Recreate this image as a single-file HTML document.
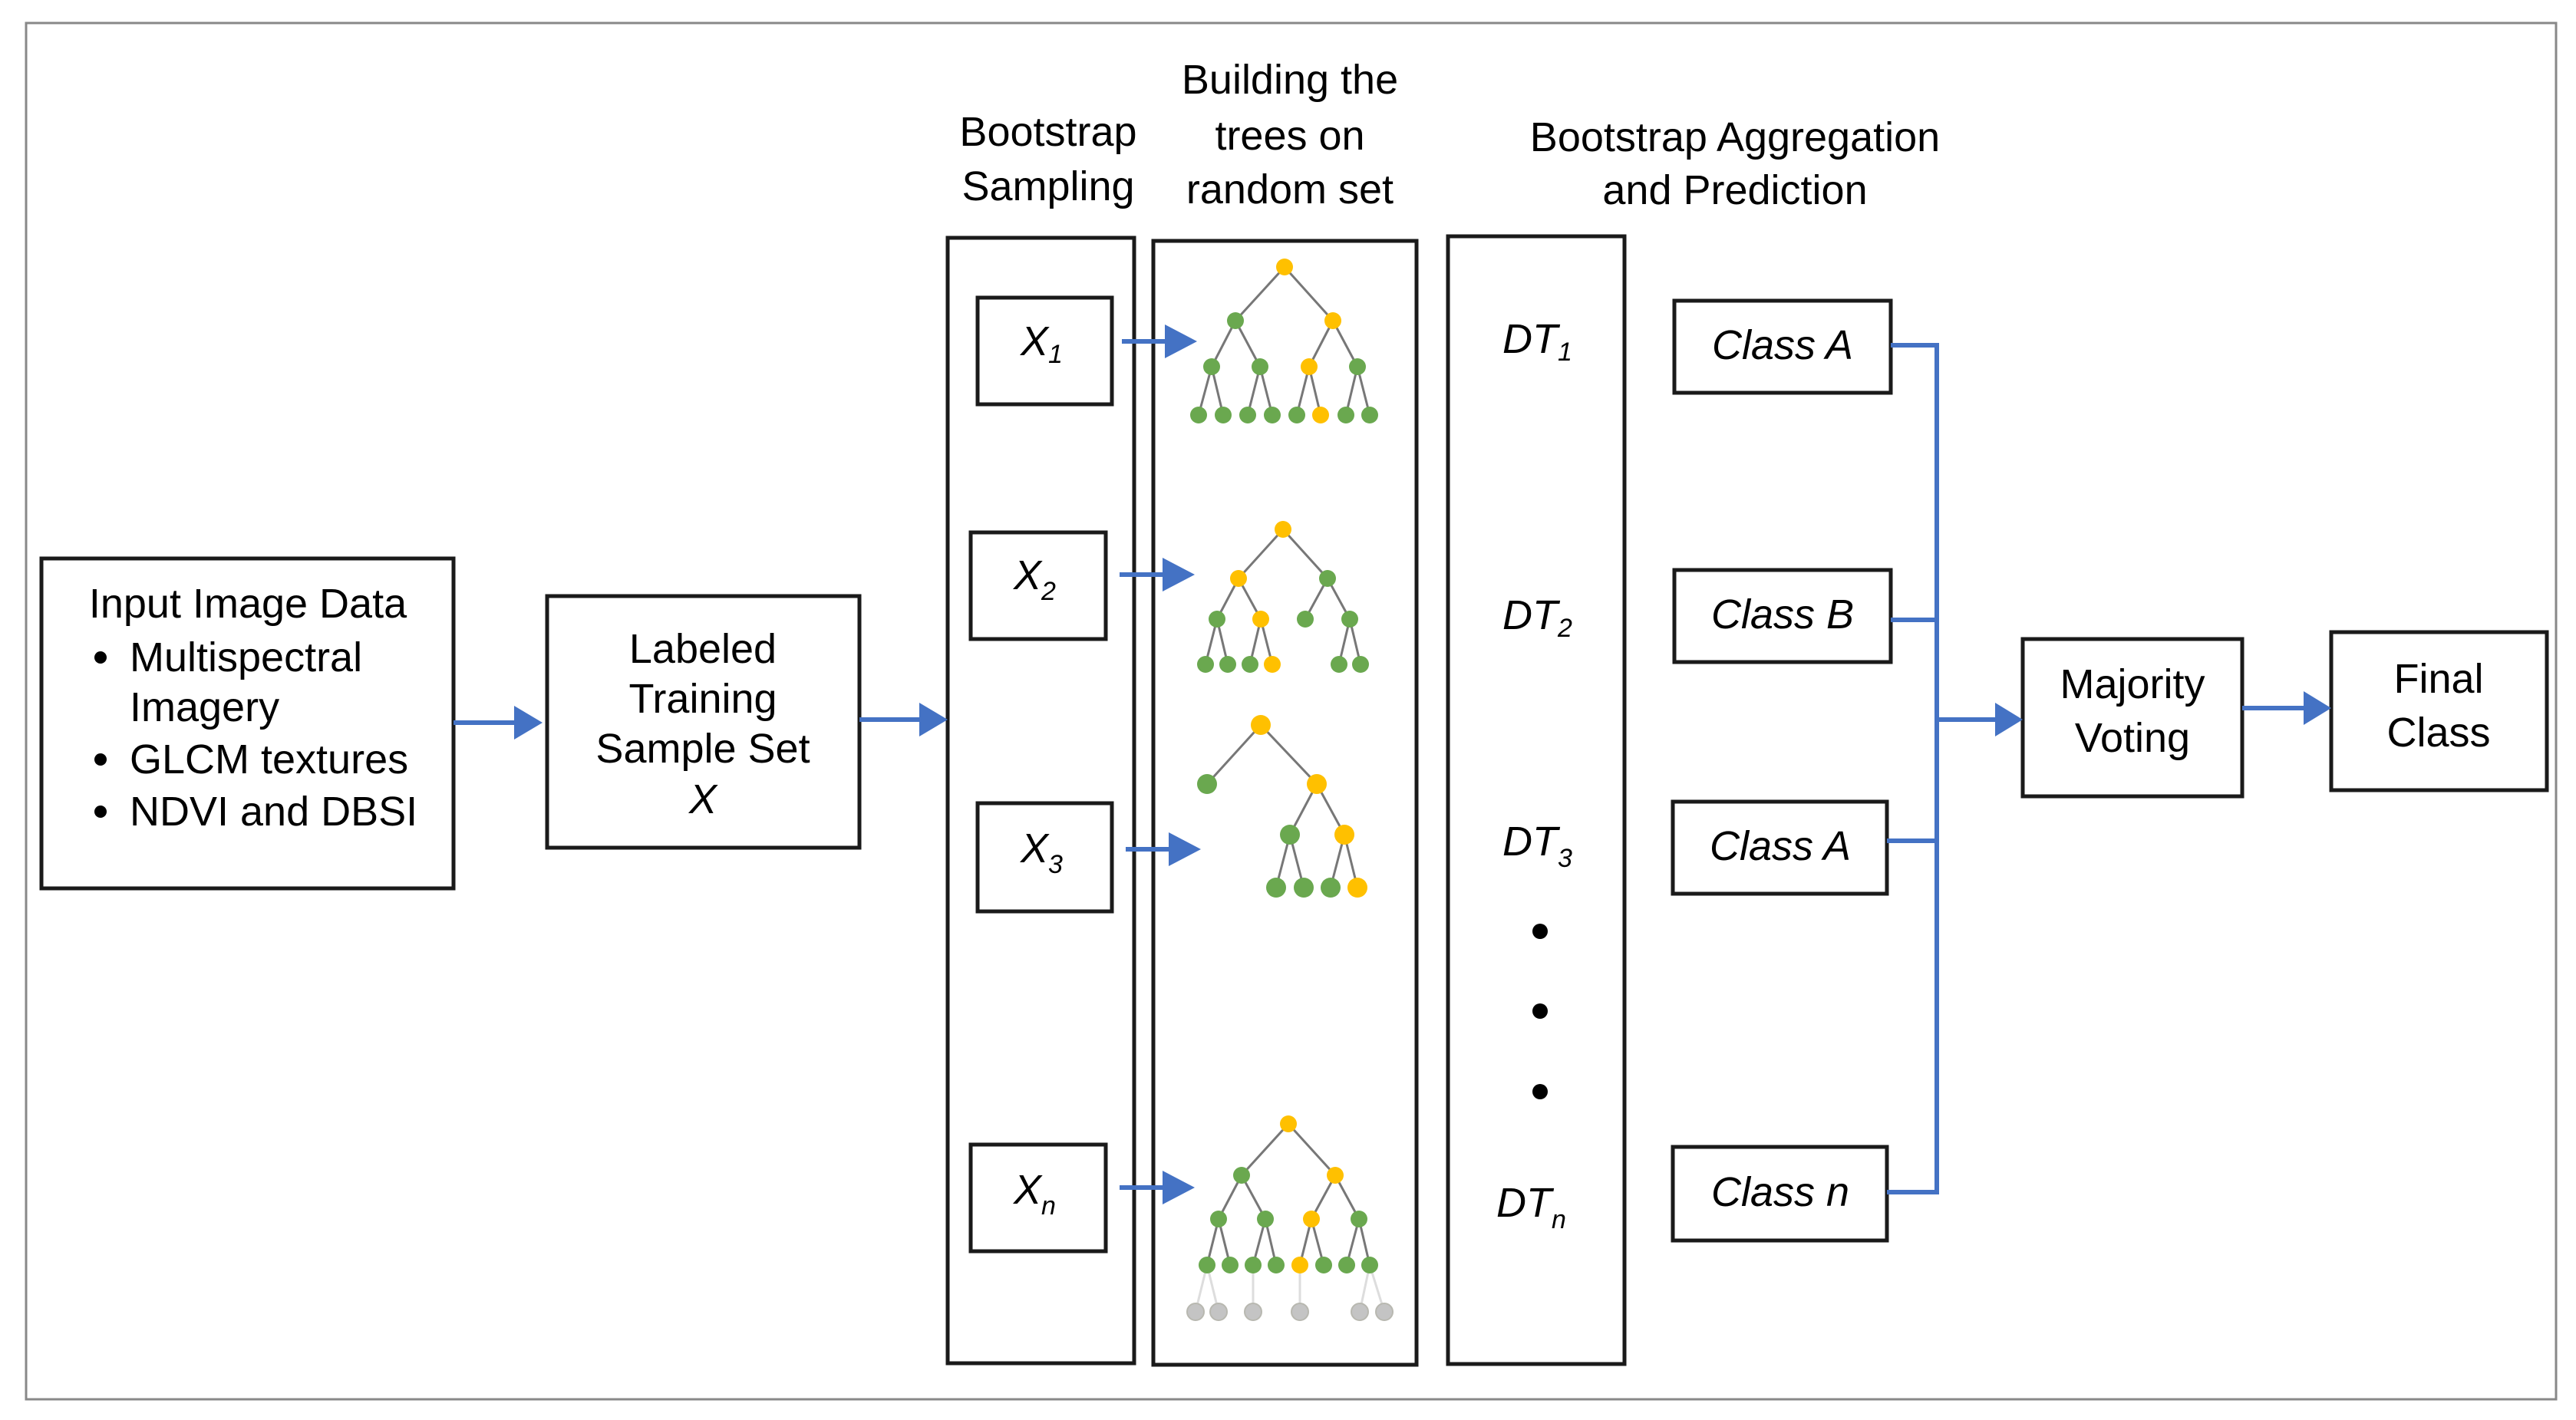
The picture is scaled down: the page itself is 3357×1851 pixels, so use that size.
<!DOCTYPE html>
<html><head><meta charset="utf-8"><style>
html,body{margin:0;padding:0;background:#fff;}
svg{display:block;}
text{font-family:"Liberation Sans",Arial,sans-serif;fill:#000;}
</style></head><body>
<svg width="3357" height="1851" viewBox="0 0 3357 1851" xmlns="http://www.w3.org/2000/svg">
<rect x="0" y="0" width="3357" height="1851" fill="#fff"/>
<rect x="34" y="30" width="3297" height="1794" fill="none" stroke="#888" stroke-width="3"/>

<g fill="none" stroke="#1a1a1a" stroke-width="5">
<rect x="54" y="728" width="537" height="430"/>
<rect x="713" y="777" width="407" height="328"/>
<rect x="1235" y="310" width="243" height="1467"/>
<rect x="1503" y="314" width="343" height="1465"/>
<rect x="1887" y="308" width="230" height="1470"/>
<rect x="1274" y="388" width="175" height="139"/>
<rect x="1265" y="694" width="176" height="139"/>
<rect x="1274" y="1047" width="175" height="141"/>
<rect x="1265" y="1492" width="176" height="139"/>
<rect x="2182" y="392" width="282" height="120"/>
<rect x="2182" y="743" width="282" height="120"/>
<rect x="2180" y="1045" width="279" height="120"/>
<rect x="2180" y="1495" width="279" height="122"/>
<rect x="2636" y="833" width="286" height="205"/>
<rect x="3038" y="824" width="281" height="206"/>
</g>

<!-- blue connectors -->
<g stroke="#4472C4" stroke-width="6" fill="none">
<line x1="591" y1="942" x2="680" y2="942"/>
<line x1="1120" y1="938" x2="1208" y2="938"/>
<line x1="1462" y1="445" x2="1530" y2="445"/>
<line x1="1459" y1="749" x2="1527" y2="749"/>
<line x1="1467" y1="1107" x2="1535" y2="1107"/>
<line x1="1459" y1="1548" x2="1527" y2="1548"/>
<polyline points="2464,450 2524,450 2524,1554 2459,1554"/>
<line x1="2464" y1="808" x2="2524" y2="808"/>
<line x1="2459" y1="1096" x2="2524" y2="1096"/>
<line x1="2524" y1="938" x2="2610" y2="938"/>
<line x1="2922" y1="923" x2="3012" y2="923"/>
</g>
<g fill="#4472C4">
<polygon points="670,920 707,942 670,964"/>
<polygon points="1198,916 1235,938 1198,960"/>
<polygon points="1518,423 1560,445 1518,467"/>
<polygon points="1515,727 1557,749 1515,771"/>
<polygon points="1523,1085 1565,1107 1523,1129"/>
<polygon points="1515,1526 1557,1548 1515,1570"/>
<polygon points="2600,916 2636,938 2600,960"/>
<polygon points="3002,901 3038,923 3002,945"/>
</g>

<!-- trees -->
<g stroke="#777" stroke-width="3">
<!-- tree1 -->
<line x1="1674" y1="348" x2="1610" y2="418"/><line x1="1674" y1="348" x2="1737" y2="418"/>
<line x1="1610" y1="418" x2="1579" y2="478"/><line x1="1610" y1="418" x2="1642" y2="478"/>
<line x1="1737" y1="418" x2="1706" y2="478"/><line x1="1737" y1="418" x2="1769" y2="478"/>
<line x1="1579" y1="478" x2="1562" y2="541"/><line x1="1579" y1="478" x2="1594" y2="541"/>
<line x1="1642" y1="478" x2="1626" y2="541"/><line x1="1642" y1="478" x2="1658" y2="541"/>
<line x1="1706" y1="478" x2="1690" y2="541"/><line x1="1706" y1="478" x2="1721" y2="541"/>
<line x1="1769" y1="478" x2="1754" y2="541"/><line x1="1769" y1="478" x2="1785" y2="541"/>
<!-- tree2 -->
<line x1="1672" y1="690" x2="1614" y2="754"/><line x1="1672" y1="690" x2="1730" y2="754"/>
<line x1="1614" y1="754" x2="1586" y2="807"/><line x1="1614" y1="754" x2="1643" y2="807"/>
<line x1="1730" y1="754" x2="1701" y2="807"/><line x1="1730" y1="754" x2="1759" y2="807"/>
<line x1="1586" y1="807" x2="1571" y2="866"/><line x1="1586" y1="807" x2="1600" y2="866"/>
<line x1="1643" y1="807" x2="1629" y2="866"/><line x1="1643" y1="807" x2="1658" y2="866"/>
<line x1="1759" y1="807" x2="1745" y2="866"/><line x1="1759" y1="807" x2="1773" y2="866"/>
<!-- tree3 -->
<line x1="1643" y1="945" x2="1573" y2="1022"/><line x1="1643" y1="945" x2="1716" y2="1022"/>
<line x1="1716" y1="1022" x2="1681" y2="1088"/><line x1="1716" y1="1022" x2="1752" y2="1088"/>
<line x1="1681" y1="1088" x2="1663" y2="1157"/><line x1="1681" y1="1088" x2="1699" y2="1157"/>
<line x1="1752" y1="1088" x2="1734" y2="1157"/><line x1="1752" y1="1088" x2="1769" y2="1157"/>
<!-- tree n -->
<line x1="1679" y1="1465" x2="1618" y2="1532"/><line x1="1679" y1="1465" x2="1740" y2="1532"/>
<line x1="1618" y1="1532" x2="1588" y2="1589"/><line x1="1618" y1="1532" x2="1649" y2="1589"/>
<line x1="1740" y1="1532" x2="1709" y2="1589"/><line x1="1740" y1="1532" x2="1771" y2="1589"/>
<line x1="1588" y1="1589" x2="1573" y2="1649"/><line x1="1588" y1="1589" x2="1603" y2="1649"/>
<line x1="1649" y1="1589" x2="1633" y2="1649"/><line x1="1649" y1="1589" x2="1663" y2="1649"/>
<line x1="1709" y1="1589" x2="1694" y2="1649"/><line x1="1709" y1="1589" x2="1725" y2="1649"/>
<line x1="1771" y1="1589" x2="1755" y2="1649"/><line x1="1771" y1="1589" x2="1785" y2="1649"/>
</g>
<g stroke="#ddd" stroke-width="3">
<line x1="1573" y1="1649" x2="1558" y2="1710"/><line x1="1573" y1="1649" x2="1588" y2="1710"/>
<line x1="1633" y1="1649" x2="1633" y2="1710"/><line x1="1694" y1="1649" x2="1694" y2="1710"/>
<line x1="1785" y1="1649" x2="1772" y2="1710"/><line x1="1785" y1="1649" x2="1804" y2="1710"/>
</g>
<g fill="#6AA84F">
<circle cx="1610" cy="418" r="11"/>
<circle cx="1579" cy="478" r="11"/><circle cx="1642" cy="478" r="11"/><circle cx="1769" cy="478" r="11"/>
<circle cx="1562" cy="541" r="11"/><circle cx="1594" cy="541" r="11"/><circle cx="1626" cy="541" r="11"/><circle cx="1658" cy="541" r="11"/><circle cx="1690" cy="541" r="11"/><circle cx="1754" cy="541" r="11"/><circle cx="1785" cy="541" r="11"/>
<circle cx="1730" cy="754" r="11"/>
<circle cx="1586" cy="807" r="11"/><circle cx="1701" cy="807" r="11"/><circle cx="1759" cy="807" r="11"/>
<circle cx="1571" cy="866" r="11"/><circle cx="1600" cy="866" r="11"/><circle cx="1629" cy="866" r="11"/><circle cx="1745" cy="866" r="11"/><circle cx="1773" cy="866" r="11"/>
<circle cx="1573" cy="1022" r="13"/><circle cx="1681" cy="1088" r="13"/>
<circle cx="1663" cy="1157" r="13"/><circle cx="1699" cy="1157" r="13"/><circle cx="1734" cy="1157" r="13"/>
<circle cx="1618" cy="1532" r="11"/>
<circle cx="1588" cy="1589" r="11"/><circle cx="1649" cy="1589" r="11"/><circle cx="1771" cy="1589" r="11"/>
<circle cx="1573" cy="1649" r="11"/><circle cx="1603" cy="1649" r="11"/><circle cx="1633" cy="1649" r="11"/><circle cx="1663" cy="1649" r="11"/><circle cx="1725" cy="1649" r="11"/><circle cx="1755" cy="1649" r="11"/><circle cx="1785" cy="1649" r="11"/>
</g>
<g fill="#FFC000">
<circle cx="1674" cy="348" r="11"/><circle cx="1737" cy="418" r="11"/><circle cx="1706" cy="478" r="11"/><circle cx="1721" cy="541" r="11"/>
<circle cx="1672" cy="690" r="11"/><circle cx="1614" cy="754" r="11"/><circle cx="1643" cy="807" r="11"/><circle cx="1658" cy="866" r="11"/>
<circle cx="1643" cy="945" r="13"/><circle cx="1716" cy="1022" r="13"/><circle cx="1752" cy="1088" r="13"/><circle cx="1769" cy="1157" r="13"/>
<circle cx="1679" cy="1465" r="11"/><circle cx="1740" cy="1532" r="11"/><circle cx="1709" cy="1589" r="11"/><circle cx="1694" cy="1649" r="11"/>
</g>
<g fill="#c4c4c4" stroke="#b8b8b0" stroke-width="2">
<circle cx="1558" cy="1710" r="11"/><circle cx="1588" cy="1710" r="11"/><circle cx="1633" cy="1710" r="11"/><circle cx="1694" cy="1710" r="11"/><circle cx="1772" cy="1710" r="11"/><circle cx="1804" cy="1710" r="11"/>
</g>

<!-- dots -->
<g fill="#000"><circle cx="2007" cy="1214" r="10"/><circle cx="2007" cy="1318" r="10"/><circle cx="2007" cy="1423" r="10"/></g>

<!-- text -->
<g font-size="54">
<text x="1366" y="190" text-anchor="middle">Bootstrap</text>
<text x="1366" y="261" text-anchor="middle">Sampling</text>
<text x="1681" y="122" text-anchor="middle">Building the</text>
<text x="1681" y="195" text-anchor="middle">trees on</text>
<text x="1681" y="265" text-anchor="middle">random set</text>
<text x="2261" y="197" text-anchor="middle">Bootstrap Aggregation</text>
<text x="2261" y="266" text-anchor="middle">and Prediction</text>

<text x="323" y="805" text-anchor="middle">Input Image Data</text>
<circle cx="131" cy="857" r="8"/><text x="169" y="875">Multispectral</text>
<text x="169" y="940">Imagery</text>
<circle cx="131" cy="990" r="8"/><text x="169" y="1008">GLCM textures</text>
<circle cx="131" cy="1058" r="8"/><text x="169" y="1076">NDVI and DBSI</text>

<text x="916" y="864" text-anchor="middle">Labeled</text>
<text x="916" y="929" text-anchor="middle">Training</text>
<text x="916" y="994" text-anchor="middle">Sample Set</text>
<text x="916" y="1060" text-anchor="middle" font-style="italic">X</text>

<text x="2779" y="910" text-anchor="middle">Majority</text>
<text x="2779" y="980" text-anchor="middle">Voting</text>
<text x="3178" y="903" text-anchor="middle">Final</text>
<text x="3178" y="973" text-anchor="middle">Class</text>

<g font-style="italic">
<text x="2323" y="468" text-anchor="middle">Class A</text>
<text x="2323" y="819" text-anchor="middle">Class B</text>
<text x="2320" y="1121" text-anchor="middle">Class A</text>
<text x="2320" y="1572" text-anchor="middle">Class n</text>

<text x="1330" y="463">X<tspan font-size="34" dy="10">1</tspan></text>
<text x="1321" y="768">X<tspan font-size="34" dy="14">2</tspan></text>
<text x="1330" y="1124">X<tspan font-size="34" dy="14">3</tspan></text>
<text x="1321" y="1569">X<tspan font-size="34" dy="14">n</tspan></text>

<text x="1958" y="460">DT<tspan font-size="34" dy="10">1</tspan></text>
<text x="1958" y="820">DT<tspan font-size="34" dy="10">2</tspan></text>
<text x="1958" y="1115">DT<tspan font-size="34" dy="15">3</tspan></text>
<text x="1950" y="1586">DT<tspan font-size="34" dy="15">n</tspan></text>
</g>
</g>
</svg>
</body></html>
